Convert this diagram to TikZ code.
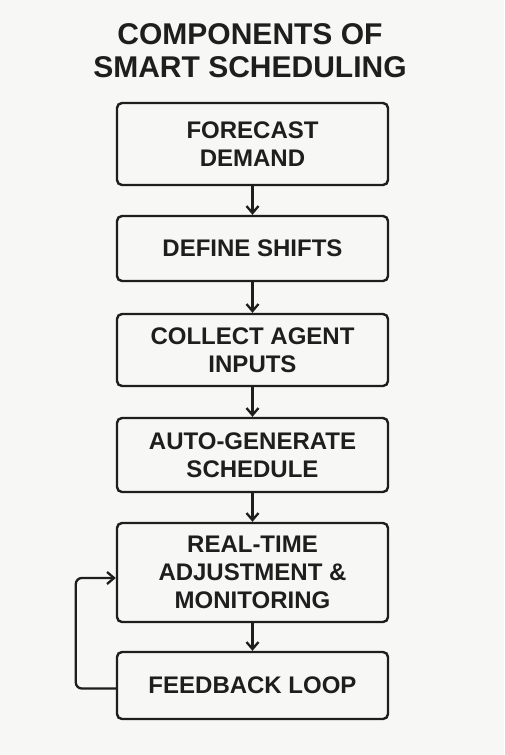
\documentclass[tikz,border=0pt]{standalone}
\usepackage{fontspec}
\setmainfont{Liberation Sans}
\usepackage{tikz}
\usetikzlibrary{arrows.meta, positioning}
\usepackage{xcolor}
\definecolor{bgcol}{HTML}{F7F7F5}
\definecolor{inkcol}{HTML}{1E1E1E}

\tikzset{
	stagebox/.style={inner sep=5pt, draw=inkcol, line width=2.4pt, rounded corners=5pt,
		minimum width=271pt, align=center, text=inkcol,
		font=\fontsize{24}{28}\selectfont\bfseries},
	flow/.style={draw=inkcol, line width=2.3pt, -{Straight Barb[length=7pt,width=12pt,line width=2.3pt]}}
}

\begin{document}
\begin{tikzpicture}[x=1pt,y=1pt]
		\fill[bgcol] (0,0) rectangle (504,-755);
		\useasboundingbox (0,0) rectangle (504,-755);
		
		\node[align=center, text=inkcol, font=\fontsize{30}{33}\selectfont\bfseries] (title) at (250,-51) {COMPONENTS OF\\SMART SCHEDULING};
		
		\draw (252.5,-144)   node[stagebox, minimum height=82pt] (fc) {FORECAST\\DEMAND}
		(252.5,-248.5) node[stagebox, minimum height=65pt] (ds) {DEFINE SHIFTS}
		(252.5,-350)   node[stagebox, minimum height=72pt] (ci) {COLLECT AGENT\\INPUTS}
		(252.5,-455)   node[stagebox, minimum height=74pt] (ag) {AUTO-GENERATE\\SCHEDULE}
		(252.5,-572.5) node[stagebox, minimum height=99pt] (rt) {REAL-TIME\\ADJUSTMENT \&\\MONITORING}
		(252.5,-685.5) node[stagebox, minimum height=67pt] (fb) {FEEDBACK LOOP};
		
		\draw[flow] (fc) -- (ds);
		\draw[flow] (ds) -- (ci);
		\draw[flow] (ci) -- (ag);
		\draw[flow] (ag) -- (rt);
		\draw[flow] (rt) -- (fb);
		\draw[flow, rounded corners=6pt] ([yshift=-3pt]fb.west) -- ++(-40,0) |- ([yshift=-5.5pt]rt.west);
	\end{tikzpicture}
\end{document}
